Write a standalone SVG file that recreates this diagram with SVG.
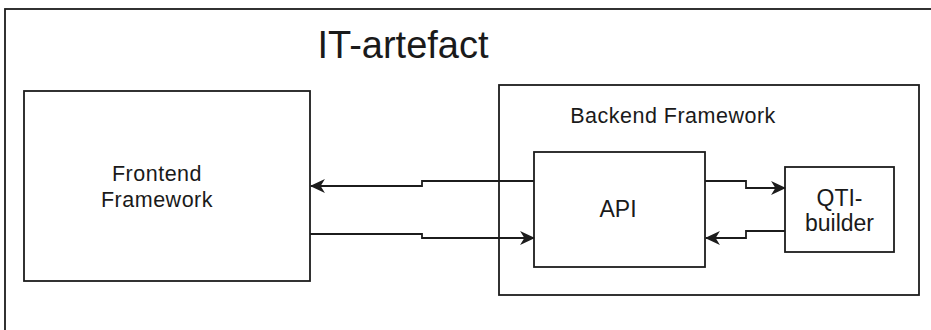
<svg xmlns="http://www.w3.org/2000/svg" width="931" height="330" viewBox="0 0 931 330">
  <style>
    .box { fill: #ffffff; stroke: #1c1c1c; stroke-width: 1.8; }
    .frame { fill: #ffffff; stroke: #1c1c1c; stroke-width: 1.8; }
    .edge { fill: none; stroke: #1c1c1c; stroke-width: 1.8; marker-end: url(#arrow); }
    .label { font-family: "Liberation Sans", Arial, sans-serif; fill: #1a1a1a; text-anchor: middle; }
    .small { font-size: 21.5px; letter-spacing: 0.5px; }
    .mid { font-size: 23px; }
    .title { font-size: 38px; }
  </style>
  <defs>
    <marker id="arrow" markerUnits="userSpaceOnUse" viewBox="0 0 14 14" markerWidth="15" markerHeight="15" refX="13" refY="7" orient="auto">
      <path d="M0,0.5 L14,7 L0,13.5 L4,7 z" fill="#1c1c1c"/>
    </marker>
  </defs>

  <!-- outer container -->
  <g id="it-artefact">
    <rect class="frame" x="5" y="9" width="940" height="340"/>
    <text class="label title" x="403" y="58">IT-artefact</text>
  </g>

  <g id="frontend">
    <rect class="box" x="24" y="91" width="286" height="190"/>
    <text class="label small" x="157" y="181">Frontend</text>
    <text class="label small" x="157" y="207">Framework</text>
  </g>

  <g id="backend">
    <rect class="box" x="499" y="85" width="420" height="210"/>
    <text class="label small" x="673" y="123">Backend Framework</text>
  </g>

  <g id="api">
    <rect class="box" x="534" y="152" width="171" height="115"/>
    <text class="label mid" x="618" y="217">API</text>
  </g>

  <g id="qti-builder">
    <rect class="box" x="785" y="167" width="109" height="85"/>
    <text class="label mid" x="839.5" y="206">QTI-</text>
    <text class="label mid" x="839.5" y="231">builder</text>
  </g>

  <g id="connectors">
    <path class="edge" d="M534,181 H422 V186 H311"/>
    <path class="edge" d="M310,234 H422 V238 H534"/>
    <path class="edge" d="M705,181 H746 V188 H785"/>
    <path class="edge" d="M785,231 H746 V238 H706"/>
  </g>
</svg>
